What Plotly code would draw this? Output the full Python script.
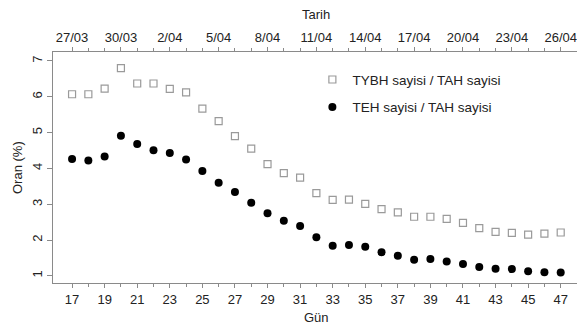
import plotly.graph_objects as go

days = list(range(17, 48))
tybh = [6.07, 6.07, 6.23, 6.80, 6.37, 6.37, 6.22, 6.12, 5.67, 5.32, 4.90, 4.55, 4.12, 3.87, 3.74,
        3.31, 3.12, 3.13, 3.01, 2.86, 2.77, 2.65, 2.65, 2.59, 2.48, 2.33, 2.23, 2.20, 2.15, 2.18, 2.21]
teh = [4.26, 4.22, 4.33, 4.91, 4.68, 4.51, 4.43, 4.25, 3.93, 3.60, 3.34, 3.04, 2.75, 2.54, 2.39,
       2.08, 1.84, 1.86, 1.81, 1.66, 1.56, 1.45, 1.47, 1.40, 1.33, 1.25, 1.20, 1.19, 1.13, 1.10, 1.09]
date_ticks = list(range(17, 48, 3))
date_labels = ["27/03", "30/03", "2/04", "5/04", "8/04", "11/04", "14/04", "17/04", "20/04", "23/04", "26/04"]
day_ticks = list(range(17, 48, 2))
y_ticks = [1, 2, 3, 4, 5, 6, 7]

FONT = "Liberation Sans, Arial, sans-serif"
AX = "#8a8a8a"
TXT = "#222222"
TS = 13

fig = go.Figure()
fig.add_trace(go.Scatter(
    x=days, y=tybh, mode="markers", name="TYBH sayisi / TAH sayisi",
    legendgroup="a",
    marker=dict(symbol="square-open", size=7, color="#9a9a9a", line=dict(width=1.2, color="#9a9a9a"))))
fig.add_trace(go.Scatter(
    x=days, y=teh, mode="markers", name="TEH sayisi / TAH sayisi",
    legendgroup="b",
    marker=dict(symbol="circle", size=8, color="#000000")))
fig.add_trace(go.Scatter(x=[days[0]], y=[teh[0]], xaxis="x2", mode="markers",
                         marker=dict(opacity=0), showlegend=False, hoverinfo="skip"))

xr = [15.83, 48.0]
fig.update_layout(
    width=577, height=327,
    margin=dict(l=53, r=0, t=52, b=44, autoexpand=False),
    paper_bgcolor="white", plot_bgcolor="white",
    font=dict(family=FONT, size=TS, color=TXT),
    showlegend=True,
    legend=dict(x=0.495, y=0.947, xanchor="left", yanchor="top", bgcolor="rgba(0,0,0,0)",
                font=dict(size=13.5, color=TXT), tracegroupgap=7, itemwidth=30),
    xaxis=dict(range=xr, showgrid=False, zeroline=False, showline=True, linecolor=AX, linewidth=1,
               automargin=False,
               tickmode="array", tickvals=day_ticks, ticks="outside", ticklen=4, tickcolor=AX,
               tickfont=dict(size=TS, color=TXT),
               minor=dict(tickmode="array", tickvals=days, ticks="outside", ticklen=3, tickcolor=AX)),
    xaxis2=dict(range=xr, overlaying="x", side="top", showgrid=False, zeroline=False, showline=True,
                automargin=False,
                linecolor=AX, linewidth=1, tickmode="array", tickvals=date_ticks, ticktext=date_labels,
                ticks="outside", ticklen=4, tickcolor=AX, tickfont=dict(size=TS, color=TXT),
                minor=dict(tickmode="array", tickvals=days, ticks="outside", ticklen=3, tickcolor=AX)),
    yaxis=dict(range=[0.80, 7.25], showgrid=False, zeroline=False, showline=True, linecolor=AX, linewidth=1,
               automargin=False,
               tickmode="array", tickvals=y_ticks, ticks="outside", ticklen=5, tickcolor=AX,
               tickangle=-90, tickfont=dict(size=TS, color=TXT)),
    annotations=[
        dict(text="Tarih", xref="paper", yref="paper", x=(316 - 53) / 524, y=1 + (52 - 15) / 231,
             xanchor="center", yanchor="middle", showarrow=False, font=dict(size=TS, color=TXT)),
        dict(text="Gün", xref="paper", yref="paper", x=(316 - 53) / 524, y=-(317 - 283) / 231,
             xanchor="center", yanchor="middle", showarrow=False, font=dict(size=TS, color=TXT)),
        dict(text="Oran (%)", xref="paper", yref="paper", x=-(53 - 17) / 524, y=(283 - 168) / 231,
             xanchor="center", yanchor="middle", showarrow=False, textangle=-90,
             font=dict(size=TS, color=TXT)),
    ],
)

fig.write_html("out.html", config={"displayModeBar": False},
               post_script="document.body.style.margin='0';document.body.style.overflow='hidden';")
